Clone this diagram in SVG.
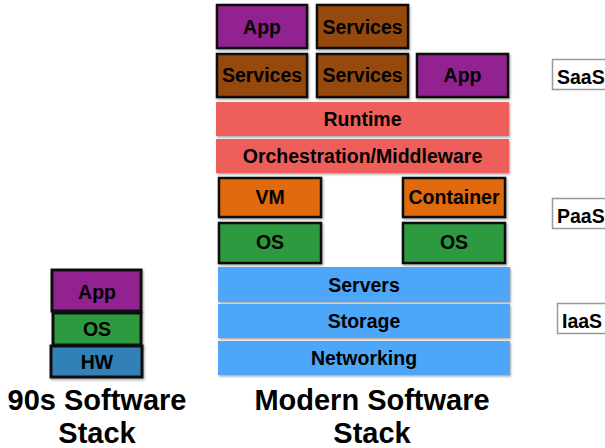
<svg xmlns="http://www.w3.org/2000/svg" width="605" height="448" viewBox="0 0 605 448">
<defs>
<filter id="sh" x="-10%" y="-10%" width="130%" height="140%">
<feDropShadow dx="1" dy="1.5" stdDeviation="0.8" flood-color="#000" flood-opacity="0.35"/>
</filter>
<style>
text{font-family:"Liberation Sans",Arial,sans-serif;font-weight:bold;fill:#000}
.lbl{font-size:19.5px;text-anchor:middle}
.title{font-size:29px;text-anchor:middle}
.tag{font-size:19.5px}
.b{stroke:#111;stroke-width:2.5;filter:url(#sh)}
.nb{stroke:none;filter:url(#sh)}
.app{fill:#922490}
.svc{fill:#964A0A}
.red{fill:#EE5F5B}
.org{fill:#E06A10}
.grn{fill:#2F9A40}
.blu{fill:#4EA6F8}
.hw{fill:#3380B8}
.tagbox{fill:#fff;stroke:#999;stroke-width:1.5}
</style>
</defs>
<g id="connectors"/>
<g id="m-app1"><rect class="b app" x="217" y="5" width="90" height="43"/><text class="lbl" x="262" y="34">App</text></g>
<g id="m-svc1"><rect class="b svc" x="317" y="5" width="91" height="43"/><text class="lbl" x="362.5" y="34">Services</text></g>
<g id="m-svc2"><rect class="b svc" x="217" y="54" width="90" height="43"/><text class="lbl" x="262" y="82">Services</text></g>
<g id="m-svc3"><rect class="b svc" x="317" y="54" width="91" height="43"/><text class="lbl" x="362.5" y="82">Services</text></g>
<g id="m-app2"><rect class="b app" x="417" y="54" width="91" height="43"/><text class="lbl" x="462.5" y="82">App</text></g>
<g id="runtime"><rect class="nb red" x="216" y="102" width="293" height="34"/><text class="lbl" x="362.5" y="126">Runtime</text></g>
<g id="orchestration"><rect class="nb red" x="216" y="139" width="293" height="34"/><text class="lbl" x="362.5" y="163">Orchestration/Middleware</text></g>
<g id="vm"><rect class="b org" x="219" y="178" width="102" height="39"/><text class="lbl" x="270" y="204">VM</text></g>
<g id="container"><rect class="b org" x="403" y="178" width="102" height="39"/><text class="lbl" x="454" y="204">Container</text></g>
<g id="os1"><rect class="b grn" x="219" y="223" width="102" height="40"/><text class="lbl" x="270" y="249">OS</text></g>
<g id="os2"><rect class="b grn" x="403" y="223" width="102" height="40"/><text class="lbl" x="454" y="249">OS</text></g>
<g id="servers"><rect class="nb blu" x="218" y="267" width="292" height="35"/><text class="lbl" x="364" y="292">Servers</text></g>
<g id="storage"><rect class="nb blu" x="218" y="304" width="292" height="34"/><text class="lbl" x="364" y="328">Storage</text></g>
<g id="networking"><rect class="nb blu" x="218" y="341" width="292" height="34"/><text class="lbl" x="364" y="365">Networking</text></g>
<g id="modern-title"><text class="title" x="372" y="410">Modern Software</text><text class="title" x="372" y="443">Stack</text></g>
<g id="o-app"><rect class="b app" x="52" y="270" width="89" height="41" style="stroke-width:3"/><text class="lbl" x="97" y="299">App</text></g>
<g id="o-os"><rect class="b grn" x="53" y="313" width="88" height="32" style="stroke-width:3"/><text class="lbl" x="97" y="336">OS</text></g>
<g id="o-hw"><rect class="b hw" x="51" y="346" width="91" height="31" style="stroke-width:3"/><text class="lbl" x="97" y="369">HW</text></g>
<g id="old-title"><text class="title" x="97" y="410">90s Software</text><text class="title" x="97" y="443">Stack</text></g>
<g id="saas"><rect class="tagbox" x="552.5" y="59.5" width="60" height="30"/><text class="tag" x="557" y="84">SaaS</text></g>
<g id="paas"><rect class="tagbox" x="552.5" y="198.5" width="60" height="30"/><text class="tag" x="557" y="223">PaaS</text></g>
<g id="iaas"><rect class="tagbox" x="557.5" y="303.5" width="60" height="30"/><text class="tag" x="562" y="328">IaaS</text></g>
</svg>
